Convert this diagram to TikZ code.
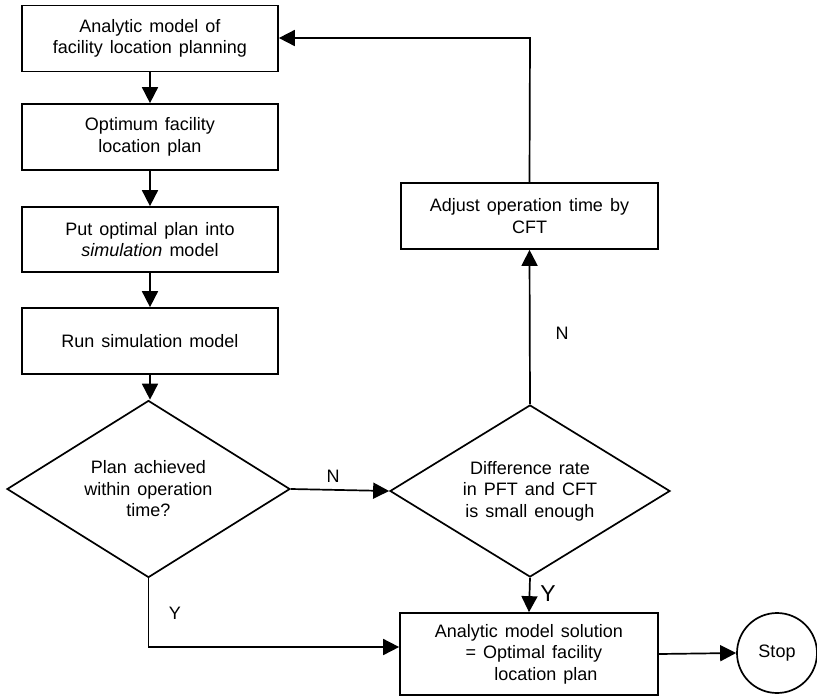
\documentclass[tikz,border=0pt]{standalone}
\usepackage{fontspec}
\setmainfont{Liberation Sans}
\usetikzlibrary{arrows.meta,shapes.geometric}
\newcommand{\mytxt}{\fontsize{18}{21.5}\selectfont\spaceskip=7pt plus 1pt\relax}
\begin{document}
\begin{tikzpicture}[x=1pt,y=-1pt,
  every node/.style={font=\mytxt},
  proc/.style={draw,line width=1.7pt,minimum width=256pt,minimum height=66pt,align=center,inner sep=0pt},
  dec/.style={draw,line width=1.7pt,diamond,aspect=1.6,minimum width=282pt,minimum height=176pt,align=center,inner sep=0pt},
  term/.style={draw,line width=1.7pt,circle,minimum size=80pt,inner sep=0pt},
  flow/.style={line width=1.7pt,-{Triangle[length=16pt,width=16pt]}},
  lbl/.style={inner sep=0pt}]
\useasboundingbox (0,0) rectangle (817,697);
\node[proc] (b1) at (150,38.5) {Analytic model of\\facility location planning};
\node[proc] (b2) at (150,137) {Optimum facility\\location plan};
\node[proc,minimum height=65pt] (b3) at (150,239.5) {Put optimal plan into\\\textit{simulation} model};
\node[proc] (b4) at (150,341) {Run simulation model};
\node[dec,minimum width=283pt,minimum height=177pt] (d1) at (148.5,489) {Plan achieved\\within operation\\time?};
\node[dec,minimum width=280pt,minimum height=172pt] (d2) at (530,491) {Difference rate\\in PFT and CFT\\is small enough};
\node[proc,minimum width=257pt] (adj) at (529.5,216) {Adjust operation time by\\CFT};
\node[proc,minimum width=258pt,minimum height=82pt] (b5) at (529,654) {Analytic model solution\\\hspace*{10pt}= Optimal facility\\\hspace*{34pt}location plan};
\node[term] (stop) at (777,653) {Stop};
\coordinate (c1) at (148.5,647);
\coordinate (c2) at (530,38);
\draw[flow] (b1) -- (b2);
\draw[flow] (b2) -- (b3);
\draw[flow] (b3) -- (b4);
\draw[flow] (b4.south) -- (b4.south |- d1.north);
\draw[flow] (d1.east) -- (d2.west) node[lbl,pos=0.43,above=7pt] {N};
\draw[flow] (d1.south) -- (c1) -- (b5.west |- c1);
\node[lbl] (ly) at (175,613) {Y};
\draw[flow] (d2.south) -- (b5.north);
\node[lbl,font=\fontsize{23}{26}\selectfont] (ly2) at (548,594) {Y};
\draw[flow] (b5.east) -- (stop.west);
\draw[flow] (d2.north) -- (adj.south);
\node[lbl] (ln) at (562,333) {N};
\draw[flow] (adj.north) -- (c2) -- (b1.east |- c2);
\end{tikzpicture}
\end{document}
